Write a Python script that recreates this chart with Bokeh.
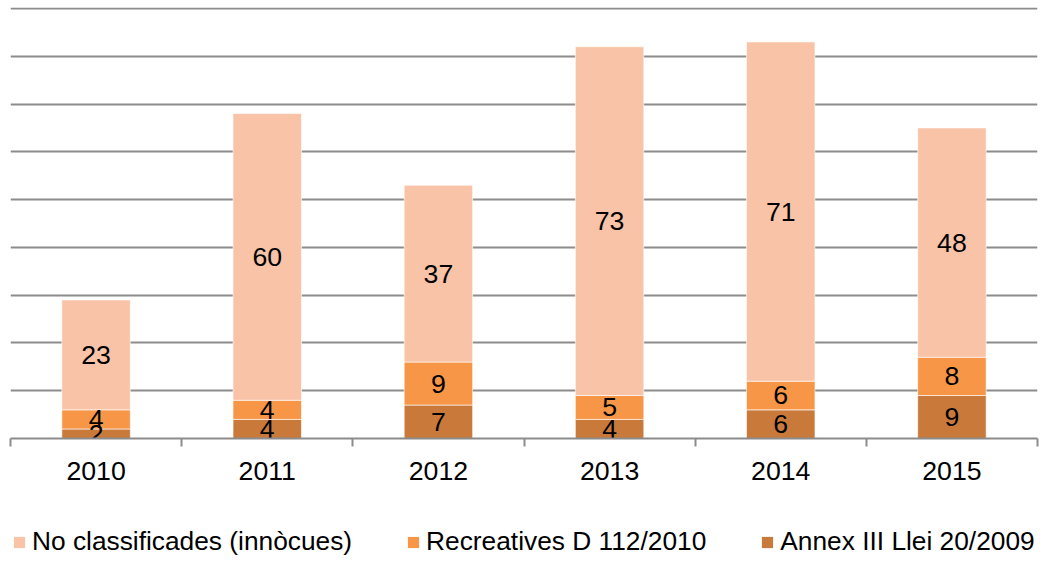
from bokeh.plotting import figure
from bokeh.layouts import column
from bokeh.models import Range1d, FixedTicker, Legend, LegendItem, ColumnDataSource
from bokeh.core.properties import value
from bokeh.embed import file_html
from bokeh.resources import INLINE

years = ["2010", "2011", "2012", "2013", "2014", "2015"]
annex = [2, 4, 7, 4, 6, 9]
recreatives = [4, 4, 9, 5, 6, 8]
no_class = [23, 60, 37, 73, 71, 48]

series_names = ["Annex III Llei 20/2009", "Recreatives D 112/2010", "No classificades (innòcues)"]
series_keys = ["annex", "recreatives", "no_class"]
colors = ["#C97A3B", "#F79646", "#F9C3A7"]

FONT = "Liberation Sans"
FS = "26.7px"

x = [i + 0.5 for i in range(len(years))]
src = ColumnDataSource(dict(x=x, annex=annex, recreatives=recreatives, no_class=no_class))

p = figure(width=1044, height=500, output_backend="svg", toolbar_location=None,
           x_range=Range1d(0, len(years)), y_range=Range1d(0, 90.2),
           min_border_left=10, min_border_right=7, min_border_top=7, min_border_bottom=62)
p.outline_line_color = None
p.background_fill_color = "white"

rs = p.vbar_stack(series_keys, x="x", width=0.4, source=src, color=colors,
                  line_color="white", line_alpha=0.6, line_width=1)

# data labels
lx, ly, lt = [], [], []
for i in range(len(years)):
    base = 0
    for vals in (annex, recreatives, no_class):
        v = vals[i]
        lx.append(x[i]); ly.append(base + v / 2); lt.append(str(v))
        base += v
p.text(x=lx, y=ly, text=lt, text_align="center", text_baseline="middle",
       text_font=value(FONT), text_font_size=FS, text_color="black")

p.yaxis.visible = False
p.ygrid.ticker = FixedTicker(ticks=list(range(10, 100, 10)))
p.ygrid.grid_line_color = "#8C8C8C"
p.ygrid.grid_line_width = 2
p.xgrid.visible = False

xa = p.xaxis[0]
xa.ticker = FixedTicker(ticks=x, minor_ticks=list(range(len(years) + 1)))
xa.major_label_overrides = {xi: y for xi, y in zip(x, years)}
xa.major_tick_out = 0
xa.major_tick_in = 0
xa.minor_tick_out = 8
xa.minor_tick_in = 0
xa.minor_tick_line_color = "#8C8C8C"
xa.minor_tick_line_width = 2
xa.axis_line_color = "#8C8C8C"
xa.axis_line_width = 2
xa.major_label_text_font = FONT
xa.major_label_text_font_size = FS
xa.major_label_text_color = "black"
xa.major_label_standoff = 15

# legend figure (swatch renderers placed below its visible range)
p2 = figure(width=1044, height=61, output_backend="svg", toolbar_location=None,
            x_range=Range1d(0, 1), y_range=Range1d(0, 1),
            min_border_left=0, min_border_right=0, min_border_top=0, min_border_bottom=0)
p2.outline_line_color = None
p2.axis.visible = False
p2.grid.visible = False
swatch = ColumnDataSource(dict(x=[0.5], top=[-2], bottom=[-3]))
lrs = [p2.vbar(x="x", top="top", bottom="bottom", width=0.1, source=swatch,
               fill_color=c, line_color=None)
       for c in colors]

items = [LegendItem(label=series_names[k], renderers=[lrs[k]]) for k in (2, 1, 0)]
legend = Legend(items=items, orientation="horizontal", location=(2, 4),
                label_text_font=FONT, label_text_font_size="26.3px", label_text_color="black",
                glyph_width=14, glyph_height=14, label_standoff=6, spacing=54,
                padding=0, margin=0, border_line_color=None, background_fill_alpha=0)
p2.add_layout(legend)

layout = column(p, p2)
open("out.html", "w").write(file_html(layout, INLINE))
